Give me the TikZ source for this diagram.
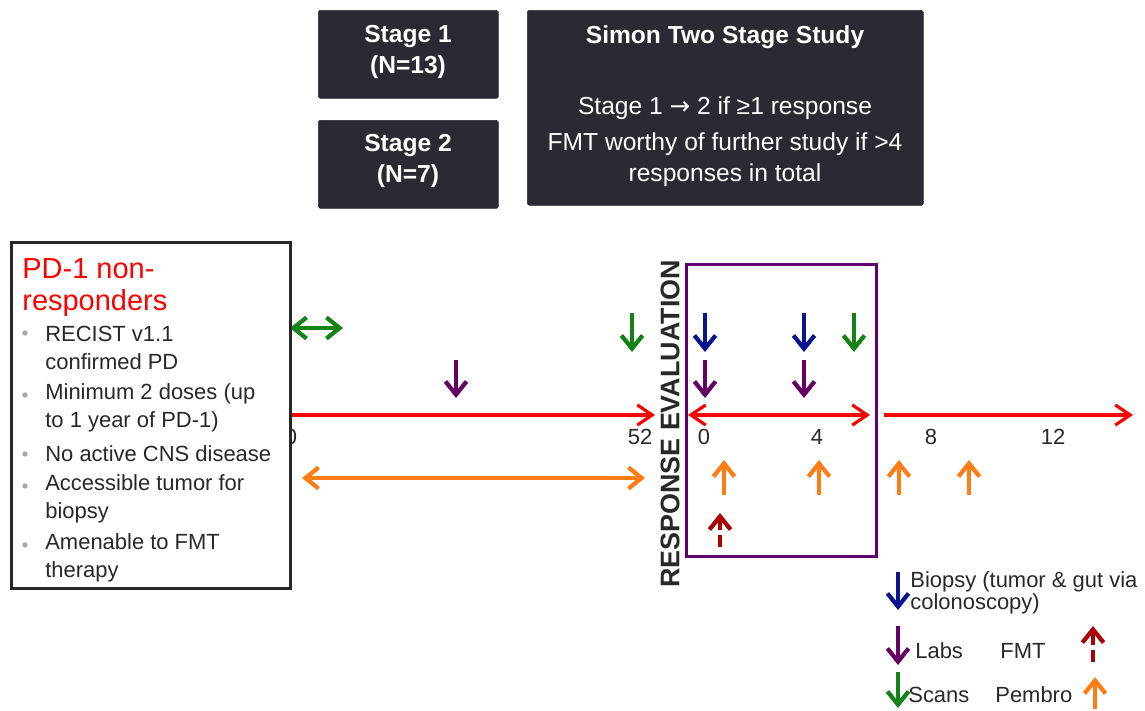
\documentclass[tikz,border=0pt]{standalone}
\usepackage{fontspec}
\setmainfont{Liberation Sans}
\newfontfamily\symfont{DejaVu Sans}
\usetikzlibrary{arrows.meta,positioning}

\definecolor{boxdark}{RGB}{42,42,51}
\definecolor{txtdark}{RGB}{40,40,40}
\definecolor{biopsyblue}{RGB}{10,20,140}
\definecolor{labpurple}{RGB}{100,0,100}
\definecolor{scangreen}{RGB}{20,130,20}
\definecolor{pembroorange}{RGB}{255,125,20}
\definecolor{fmtred}{RGB}{170,0,0}
\definecolor{evalpurple}{RGB}{95,0,110}

\begin{document}
\begin{tikzpicture}[x=0.02cm,y=-0.02cm]
        \useasboundingbox (0,0) rectangle (1145,710);

        \tikzstyle{darkbox}=[fill=boxdark,draw=boxdark,rounded corners=1pt,text=white,inner sep=0pt]
        \tikzstyle{boxtext}=[text=white,font=\fontsize{14}{17.6}\selectfont,align=center,inner sep=0pt]
        \tikzstyle{crittext}=[text=txtdark,font=\fontsize{12.5}{15.8}\selectfont,align=left,inner sep=0pt]
        \tikzstyle{dotbullet}=[circle,fill=gray!70,inner sep=0pt,minimum size=3pt]
        \tikzstyle{ticklab}=[text=txtdark,font=\fontsize{12.5}{14}\selectfont,inner sep=0pt]
        \tikzstyle{legtext}=[text=txtdark,font=\fontsize{12.5}{12.8}\selectfont,align=left,inner sep=0pt,anchor=west]
        \tikzstyle{timeline}=[red,line width=1.8pt,>={Straight Barb[length=8.5pt,width=11.5pt]}]
        \tikzstyle{marker}=[line width=2.4pt,->,>={Straight Barb[length=7.5pt,width=12pt]}]
        \tikzstyle{biopsyarr}=[marker,biopsyblue]
        \tikzstyle{labarr}=[marker,labpurple]
        \tikzstyle{scanarr}=[marker,scangreen]
        \tikzstyle{pembroarr}=[marker,pembroorange]
        \tikzstyle{fmtarr}=[marker,fmtred,dash pattern=on 7pt off 2.5pt]

        % stage boxes
        \node[darkbox,anchor=north west,minimum width=3.6cm,minimum height=1.76cm] (stage1) at (318,10) {};
        \node[boxtext,font=\bfseries\fontsize{14}{17.6}\selectfont] (stage1txt) at (408,52) {Stage 1\\(N=13)};
        \node[darkbox,anchor=north west,minimum width=3.6cm,minimum height=1.76cm] (stage2) at (318,120) {};
        \node[boxtext,font=\bfseries\fontsize{14}{17.6}\selectfont] (stage2txt) at (408,161) {Stage 2\\(N=7)};

        % simon design
        \node[darkbox,anchor=north west,minimum width=7.92cm,minimum height=3.9cm] (simon) at (527,10) {};
        \node[boxtext,font=\bfseries\fontsize{14}{17.6}\selectfont] (simontitle) at (725,37) {Simon Two Stage Study};
        \node[boxtext] (simonrule1) at (725,108) {Stage 1 {\symfont →} 2 if ≥1 response};
        \node[boxtext] (simonrule2) at (725,160) {FMT worthy of further study if >4\\responses in total};

        % pre-FMT timeline
        \node[ticklab] (pre0lab) at (291,437) {0};
        \node[ticklab] (pre52lab) at (640,437) {52};
        \coordinate (pre0) at (289,415);
        \coordinate (pre52) at (655,415);
        \draw[timeline,->] (pre0) -- (pre52);
        \coordinate (prescanA) at (290,328);
        \coordinate (prescanB) at (343,328);
        \draw[scanarr,<->] (prescanA) -- (prescanB);
        \coordinate (prepemA) at (302,478);
        \coordinate (prepemB) at (645,478);
        \draw[pembroarr,<->] (prepemA) -- (prepemB);
        \coordinate (prelabA) at (456,360);
        \coordinate (prelabB) at (456,398);
        \draw[labarr] (prelabA) -- (prelabB);
        \coordinate (prescan2A) at (632,313);
        \coordinate (prescan2B) at (632,352);
        \draw[scanarr] (prescan2A) -- (prescan2B);

        % eligibility
        \node[draw=txtdark,line width=1.5pt,fill=white,anchor=north west,minimum width=5.58cm,minimum height=6.92cm] (crit) at (10,241) {};
        \node[text=red,font=\fontsize{16.5}{18.5}\selectfont,align=left,inner sep=0pt,anchor=north west] (crithead) at (22,258) {PD-1 non-\\responders};
        \foreach \yc/\yb/\txt [count=\i] in {348/333/{RECIST v1.1\\confirmed PD},
                                              408/395/{Minimum 2 doses (up\\to 1 year of PD-1)},
                                              454/454/{No active CNS disease},
                                              499/486/{Accessible tumor for\\biopsy},
                                              558/545/{Amenable to FMT\\therapy}} {
            \node[crittext,anchor=west] (item\i) at (45,\yc) {\txt};
            \node[dotbullet] (dot\i) at (25,\yb) {};
        };

        % response evaluation window
        \node[text=txtdark,font=\bfseries\fontsize{15.3}{16}\selectfont,rotate=90,inner sep=0pt] (evallab) at (670,424) {RESPONSE EVALUATION};
        \node[draw=evalpurple,line width=1.8pt,anchor=north west,minimum width=3.8cm,minimum height=5.84cm] (evalbox) at (685,263) {};
        \coordinate (ev0) at (688,415);
        \coordinate (ev6) at (870,415);
        \draw[timeline,<->] (ev0) -- (ev6);
        \coordinate (post0) at (884,415);
        \coordinate (post1) at (1133,415);
        \draw[timeline,->] (post0) -- (post1);
        \node[ticklab] (ev0lab) at (704,437) {0};
        \node[ticklab] (ev4lab) at (817,437) {4};
        \node[ticklab] (ev8lab) at (931,437) {8};
        \node[ticklab] (ev12lab) at (1053,437) {12};

        \foreach \x [count=\i] in {705,804} {
            \coordinate (bio\i a) at (\x,313);
            \coordinate (bio\i b) at (\x,352);
            \draw[biopsyarr] (bio\i a) -- (bio\i b);
            \coordinate (lab\i a) at (\x,360);
            \coordinate (lab\i b) at (\x,398);
            \draw[labarr] (lab\i a) -- (lab\i b);
        };
        \coordinate (scanA) at (854,313);
        \coordinate (scanB) at (854,352);
        \draw[scanarr] (scanA) -- (scanB);
        \foreach \x [count=\i] in {724,819,899,969} {
            \coordinate (pem\i a) at (\x,495);
            \coordinate (pem\i b) at (\x,460);
            \draw[pembroarr] (pem\i a) -- (pem\i b);
        };
        \coordinate (fmtA) at (720,547);
        \coordinate (fmtB) at (720,513);
        \draw[fmtarr] (fmtA) -- (fmtB);

        % legend
        \coordinate (legbioA) at (898,572);
        \coordinate (legbioB) at (898,610);
        \draw[biopsyarr] (legbioA) -- (legbioB);
        \node[legtext] (legbio) at (910,593) {Biopsy (tumor \& gut via\\colonoscopy)};
        \coordinate (leglabA) at (898,626);
        \coordinate (leglabB) at (898,665);
        \draw[labarr] (leglabA) -- (leglabB);
        \node[legtext] (leglab) at (915,651) {Labs};
        \node[legtext] (legfmt) at (1000,651) {FMT};
        \coordinate (legfmtA) at (1093,662);
        \coordinate (legfmtB) at (1093,626);
        \draw[fmtarr] (legfmtA) -- (legfmtB);
        \coordinate (legscanA) at (898,672);
        \coordinate (legscanB) at (898,708);
        \draw[scanarr] (legscanA) -- (legscanB);
        \node[legtext] (legscan) at (908,695) {Scans};
        \node[legtext] (legpem) at (995,695) {Pembro};
        \coordinate (legpemA) at (1095,709);
        \coordinate (legpemB) at (1095,677);
        \draw[pembroarr] (legpemA) -- (legpemB);
\end{tikzpicture}
\end{document}
